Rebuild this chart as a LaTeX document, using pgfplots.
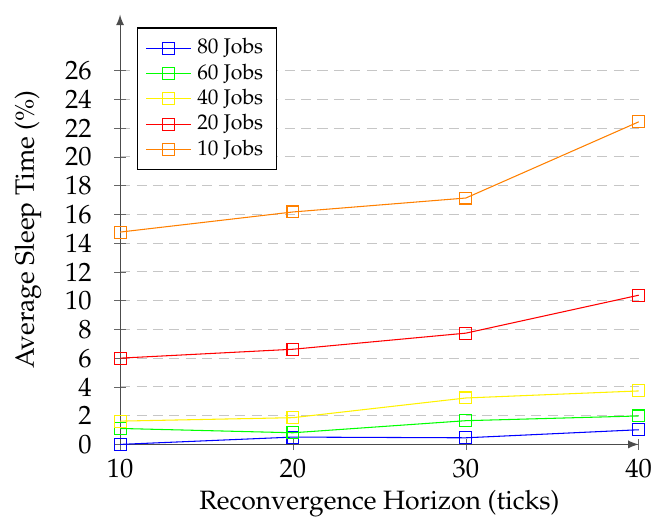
\documentclass[border=0pt]{standalone}
\usepackage[T1]{fontenc}
\usepackage{mathpazo}
\usepackage{pgfplots}
\pgfplotsset{compat=1.18}
\begin{document}
\begin{tikzpicture}
\begin{axis}[
  scale only axis,
  width=195.5pt, height=162pt,
  axis lines=left,
  axis line style={-latex, draw=black!70},
  xmin=10, xmax=40, ymin=0, ymax=29.9,
  xtick={10,20,30,40},
  ytick={0,2,...,26},
  ymajorgrids,
  major grid style={dash pattern=on 3.8pt off 2.4pt, draw=gray!45},
  tick style={draw=black!60},
  tick align=center,
  yticklabel style={xshift=-5pt},
  xticklabel style={yshift=0pt, inner xsep=0pt},
  xlabel={Reconvergence Horizon (ticks)},
  ylabel={Average Sleep Time (\%)},
  xlabel style={inner ysep=0pt, yshift=-1pt},
  ylabel style={yshift=0pt, inner ysep=5.5pt},
  clip=false,
  legend style={at={(0.033,0.97)}, anchor=north west, font=\footnotesize, draw=black, row sep=-1.75pt},
  legend cell align=left,
]
\addplot[draw=blue, mark=square, mark size=2.25pt, mark options={solid, draw=blue}] coordinates {(10,0) (20,0.51) (30,0.46) (40,1.02)};
\addlegendentry{80 Jobs}
\addplot[draw=green, mark=square, mark size=2.25pt, mark options={solid, draw=green}] coordinates {(10,1.11) (20,0.81) (30,1.65) (40,1.98)};
\addlegendentry{60 Jobs}
\addplot[draw=yellow, mark=square, mark size=2.25pt, mark options={solid, draw=yellow}] coordinates {(10,1.62) (20,1.86) (30,3.23) (40,3.72)};
\addlegendentry{40 Jobs}
\addplot[draw=red, mark=square, mark size=2.25pt, mark options={solid, draw=red}] coordinates {(10,6.0) (20,6.62) (30,7.74) (40,10.38)};
\addlegendentry{20 Jobs}
\addplot[draw=orange, mark=square, mark size=2.25pt, mark options={solid, draw=orange}] coordinates {(10,14.77) (20,16.17) (30,17.14) (40,22.44)};
\addlegendentry{10 Jobs}
\end{axis}
\path (current axis.north) ++(0,5.5pt);
\end{tikzpicture}
\end{document}
